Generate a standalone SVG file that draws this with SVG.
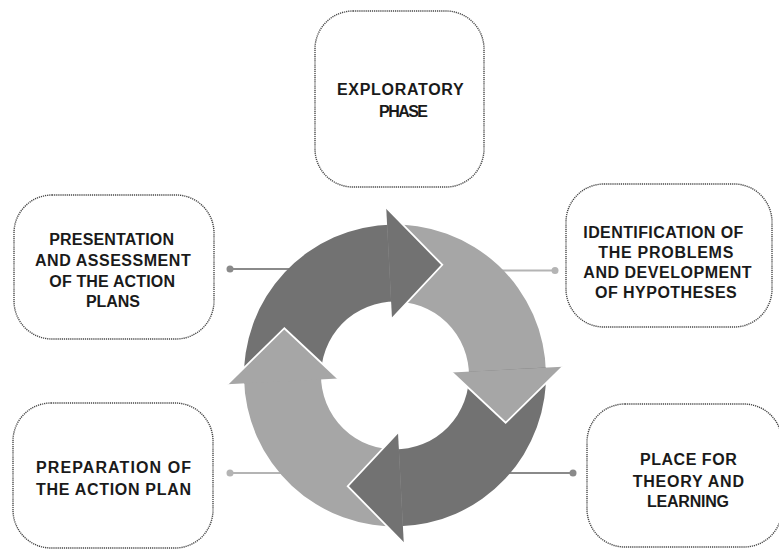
<svg xmlns="http://www.w3.org/2000/svg" width="779" height="549" viewBox="0 0 779 549">
  <defs>
    <style>
      .box { fill: #ffffff; stroke: #454545; stroke-width: 1.4; stroke-dasharray: 1.2 0.9; }
      .lbl { font-family: "Liberation Sans", Arial, sans-serif; font-weight: bold; font-size: 16px; fill: #1a1a1a; }
      .dark { fill: #727272; }
      .light { fill: #a6a6a6; }
      .edge { fill: none; stroke: #ffffff; stroke-width: 1.8; stroke-linejoin: miter; }
      .ln-dark { stroke: #8a8a8a; stroke-width: 2; }
      .ln-light { stroke: #b4b4b4; stroke-width: 2; }
      .dot-dark { fill: #8a8a8a; }
      .dot-light { fill: #b4b4b4; }
    </style>
    <!-- one quarter of the ring, head at the top pointing clockwise;
         the body runs a few pixels under its own head to avoid a seam -->
    <path id="body" d="M -151 0 A 151 151 0 0 1 6 -150.88 L 6 -73.76 A 74 74 0 0 0 -74 0 Z"/>
    <path id="head" d="M 0 -168 L 53 -108 L 0 -57 Z"/>
    <path id="headEdge" d="M 0 -168 L 53 -108 L 0 -57"/>
  </defs>

  <rect width="779" height="549" fill="#ffffff"/>

  <!-- connectors from the boxes to the cycle -->
  <g id="connectors">
    <line class="ln-dark" x1="230" y1="269" x2="300" y2="269"/>
    <circle class="dot-dark" cx="230" cy="269" r="3.5"/>
    <line class="ln-light" x1="490" y1="270.5" x2="555" y2="270.5"/>
    <circle class="dot-light" cx="555" cy="270.5" r="3.5"/>
    <line class="ln-light" x1="230" y1="473" x2="300" y2="473"/>
    <circle class="dot-light" cx="230" cy="473" r="3.5"/>
    <line class="ln-dark" x1="490" y1="473" x2="573" y2="473"/>
    <circle class="dot-dark" cx="573" cy="473" r="3.5"/>
  </g>

  <!-- four-part cycle of curved arrows -->
  <g id="cycle" transform="translate(395 375.5)">
    <use href="#body" class="dark" transform="rotate(-3)"/>
    <use href="#body" class="light" transform="rotate(87)"/>
    <use href="#body" class="dark" transform="rotate(177)"/>
    <use href="#body" class="light" transform="rotate(267)"/>
    <g transform="rotate(-3)"><use href="#head" class="dark"/><use href="#headEdge" class="edge"/></g>
    <g transform="rotate(87)"><use href="#head" class="light"/><use href="#headEdge" class="edge"/></g>
    <g transform="rotate(177)"><use href="#head" class="dark"/><use href="#headEdge" class="edge"/></g>
    <g transform="rotate(267)"><use href="#head" class="light"/><use href="#headEdge" class="edge"/></g>
  </g>

  <g id="exploratory">
    <rect class="box" x="315" y="11" width="169" height="176" rx="38"/>
    <text class="lbl" x="337" y="95" textLength="126.6" lengthAdjust="spacing">EXPLORATORY</text>
    <text class="lbl" x="379" y="117" textLength="49" lengthAdjust="spacing">PHASE</text>
  </g>

  <g id="presentation">
    <rect class="box" x="14" y="195" width="200" height="144" rx="38"/>
    <text class="lbl" x="49.3" y="245" textLength="124.7" lengthAdjust="spacing">PRESENTATION</text>
    <text class="lbl" x="35" y="266" textLength="155.7" lengthAdjust="spacing">AND ASSESSMENT</text>
    <text class="lbl" x="49.3" y="286.5" textLength="125.7" lengthAdjust="spacing">OF THE ACTION</text>
    <text class="lbl" x="86" y="306.5" textLength="54" lengthAdjust="spacing">PLANS</text>
  </g>

  <g id="identification">
    <rect class="box" x="566" y="184" width="206" height="143" rx="38"/>
    <text class="lbl" x="583.3" y="238.3" textLength="160" lengthAdjust="spacing">IDENTIFICATION OF</text>
    <text class="lbl" x="598.3" y="258.3" textLength="135" lengthAdjust="spacing">THE PROBLEMS</text>
    <text class="lbl" x="583.3" y="277.5" textLength="168.3" lengthAdjust="spacing">AND DEVELOPMENT</text>
    <text class="lbl" x="595" y="298" textLength="141.7" lengthAdjust="spacing">OF HYPOTHESES</text>
  </g>

  <g id="preparation">
    <rect class="box" x="13" y="403" width="200" height="145" rx="38"/>
    <text class="lbl" x="36" y="473" textLength="155" lengthAdjust="spacing">PREPARATION OF</text>
    <text class="lbl" x="36" y="495" textLength="155" lengthAdjust="spacing">THE ACTION PLAN</text>
  </g>

  <g id="theory">
    <rect class="box" x="587" y="404" width="195" height="143" rx="38"/>
    <text class="lbl" x="640" y="465" textLength="96.7" lengthAdjust="spacing">PLACE FOR</text>
    <text class="lbl" x="632.7" y="486.5" textLength="111.3" lengthAdjust="spacing">THEORY AND</text>
    <text class="lbl" x="647" y="506.5" textLength="82" lengthAdjust="spacing">LEARNING</text>
  </g>
</svg>
